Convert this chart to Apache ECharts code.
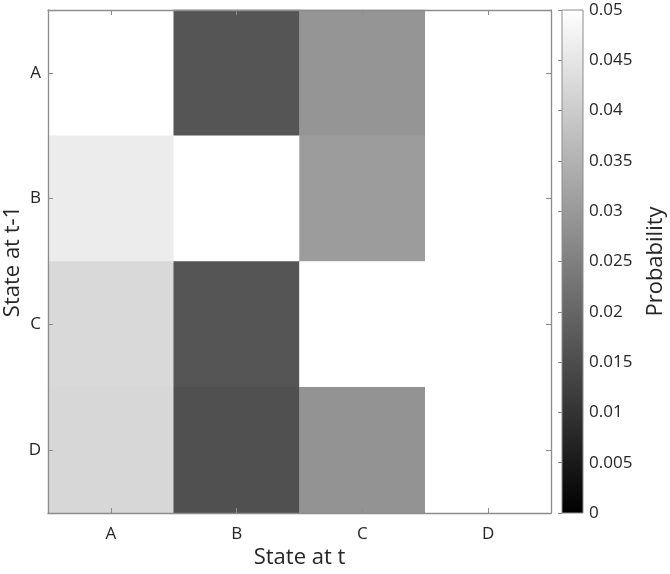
<!DOCTYPE html>
<html><head><meta charset="utf-8">
<script src="https://cdn.jsdelivr.net/npm/echarts@6/dist/echarts.min.js"></script>
<style>html,body{margin:0;padding:0;background:#fff}#c{width:670px;height:574px}</style>
</head><body><div id="c"></div>
<script>
const statesT = ['A','B','C','D'];      // x: state at t
const statesPrev = ['A','B','C','D'];   // y: state at t-1
// probability rows: state at t-1 = A..D, columns state at t = A..D
const rowA = [0.05, 0.0167, 0.0292, 0.05];
const rowB = [0.0463, 0.05, 0.0306, 0.05];
const rowC = [0.0425, 0.0167, 0.05, 0.05];
const rowD = [0.0422, 0.0157, 0.0288, 0.05];
const cbarTicks = [0,0.005,0.01,0.015,0.02,0.025,0.03,0.035,0.04,0.045,0.05];

const rows = [rowA,rowB,rowC,rowD];
const data = [];
rows.forEach((r,yi)=>r.forEach((v,xi)=>data.push([xi,yi,v])));

const axisCol = '#8c8c8c';
const txtCol = '#262626';
const font = 'Open Sans';
const chart = echarts.init(document.getElementById('c'));
chart.setOption({
  animation:false,
  textStyle:{fontFamily:font},
  grid:[
    {left:48, top:10, width:503, height:503, show:false, containLabel:false, outerBoundsMode:'none'},
    {left:562, top:10, width:21, height:503, show:true, borderColor:axisCol, borderWidth:1, containLabel:false, outerBoundsMode:'none',
     backgroundColor:{type:'linear',x:0,y:0,x2:0,y2:1,colorStops:[{offset:0,color:'#ffffff'},{offset:1,color:'#000000'}]}}
  ],
  visualMap:{show:false, min:0, max:0.05, seriesIndex:0, inRange:{color:['#000000','#ffffff']}, outOfRange:{color:'#ffffff'}},
  xAxis:[
    {type:'category', data:statesT, gridIndex:0, position:'bottom',
     name:'State at t', nameLocation:'middle', nameGap:34, nameMoveOverlap:false,
     nameTextStyle:{fontSize:22, color:txtCol, fontFamily:font},
     axisLine:{show:true, onZero:false, lineStyle:{color:axisCol,width:1.3}},
     axisTick:{show:true, inside:true, alignWithLabel:true, length:5, lineStyle:{color:axisCol}},
     axisLabel:{fontSize:17, color:txtCol, margin:13, fontFamily:font}, splitLine:{show:false}, z:5},
    {type:'category', data:statesT, gridIndex:0, position:'top',
     axisLine:{show:true, onZero:false, lineStyle:{color:axisCol,width:1.3}},
     axisTick:{show:true, inside:true, alignWithLabel:true, length:5, lineStyle:{color:axisCol}},
     axisLabel:{show:false}, splitLine:{show:false}, z:5},
    {type:'value', gridIndex:1, min:0, max:1, show:false}
  ],
  yAxis:[
    {type:'category', data:statesPrev, gridIndex:0, inverse:true, position:'left',
     name:'State at t-1', nameLocation:'middle', nameGap:24, nameRotate:90, nameMoveOverlap:false,
     nameTextStyle:{fontSize:22, color:txtCol, fontFamily:font},
     axisLine:{show:true, onZero:false, lineStyle:{color:axisCol,width:1.3}},
     axisTick:{show:true, inside:true, alignWithLabel:true, length:5, lineStyle:{color:axisCol}},
     axisLabel:{fontSize:17, color:txtCol, margin:7, fontFamily:font}, splitLine:{show:false}, z:5},
    {type:'category', data:statesPrev, gridIndex:0, inverse:true, position:'right',
     axisLine:{show:true, onZero:false, lineStyle:{color:axisCol,width:1.3}},
     axisTick:{show:true, inside:true, alignWithLabel:true, length:5, lineStyle:{color:axisCol}},
     axisLabel:{show:false}, splitLine:{show:false}, z:5},
    {type:'value', gridIndex:1, position:'right', min:cbarTicks[0], max:cbarTicks[cbarTicks.length-1], interval:0.005,
     name:'Probability', nameLocation:'middle', nameGap:62, nameRotate:90, nameMoveOverlap:false,
     nameTextStyle:{fontSize:22, color:txtCol, fontFamily:font},
     axisLine:{show:false},
     axisTick:{show:true, inside:true, length:4, lineStyle:{color:axisCol}},
     axisLabel:{fontSize:17, color:txtCol, margin:6, fontFamily:font,
       formatter:v=>{const t=cbarTicks.find(c=>Math.abs(c-v)<1e-9); return t===undefined?'':String(t);}},
     splitLine:{show:false}}
  ],
  series:[
    {type:'heatmap', xAxisIndex:0, yAxisIndex:0, data:data, itemStyle:{borderWidth:0}, emphasis:{disabled:true}, z:2}
  ]
});
</script></body></html>
